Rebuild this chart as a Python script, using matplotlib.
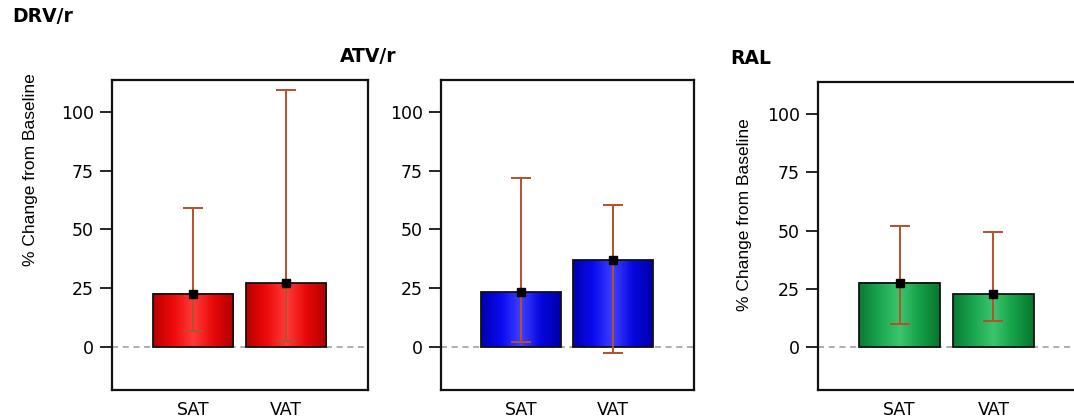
import numpy as np
import matplotlib.pyplot as plt
from matplotlib.colors import LinearSegmentedColormap

# Data: % change from baseline (mean with 95% CI) per regimen
regimens = ["DRV/r", "ATV/r", "RAL"]
depots = ["SAT", "VAT"]
drv_mean = [22.6, 27.2]
drv_low = [6.8, 2.5]
drv_high = [59.1, 109.4]
atv_mean = [23.4, 37.0]
atv_low = [2.1, -2.6]
atv_high = [71.9, 60.4]
ral_mean = [27.7, 22.6]
ral_low = [9.8, 11.1]
ral_high = [51.9, 49.4]
y_ticks = [0, 25, 50, 75, 100]

means = [drv_mean, atv_mean, ral_mean]
lows = [drv_low, atv_low, ral_low]
highs = [drv_high, atv_high, ral_high]

# Horizontal shading for each regimen's bars: dark edges, light centre
shades = [
    ["#b80000", "#ee0a0a", "#ff3a3a", "#e80808", "#b00000"],
    ["#0000b0", "#0a0af0", "#4040ff", "#0606e0", "#0000a8"],
    ["#0a7a34", "#1aa650", "#3cc56c", "#14a048", "#07762f"],
]

W, H = 1074, 419
fig = plt.figure(figsize=(W / 100, H / 100), dpi=100)

def px_axes(left, top, right, bottom):
    return fig.add_axes([left / W, 1 - bottom / H, (right - left) / W, (bottom - top) / H])

boxes = [(112, 80, 368, 390), (441, 80, 694, 390), (818, 82, 1076, 390)]
title_pos = [(12, 17), (340, 57), (730, 58)]
ylabel_pos = [(31, 170), None, (745, 215)]
err_color = "#b5502a"

x = np.arange(1, len(depots) + 1)
for i, (box, name) in enumerate(zip(boxes, regimens)):
    ax = px_axes(*box)
    cmap = LinearSegmentedColormap.from_list(f"shade{i}", shades[i])
    bars = ax.bar(x, means[i], width=0.86, color="none", edgecolor="#111111",
                  linewidth=1.3, zorder=3)
    grad = np.linspace(0, 1, 256)[None, :]
    for b in bars:
        x0, y0 = b.get_x(), b.get_y()
        ax.imshow(grad, cmap=cmap, aspect="auto", zorder=2,
                  extent=(x0, x0 + b.get_width(), y0, y0 + b.get_height()))
    m = np.array(means[i])
    yerr = np.vstack([m - np.array(lows[i]), np.array(highs[i]) - m])
    ax.errorbar(x, m, yerr=yerr, fmt="none", ecolor=err_color, elinewidth=1.4,
                capsize=7.5, capthick=1.4, zorder=4)
    ax.plot(x, m, ls="none", marker="s", ms=6, color="black", zorder=5)
    ax.axhline(0, color="#999999", lw=1.1, ls=(0, (4, 3)), zorder=1)
    ax.set_xlim(0.13, 2.88)
    ax.set_ylim(-18.3, 113.6)
    ax.set_yticks(y_ticks)
    ax.set_yticklabels([str(t) for t in y_ticks], fontsize=12.5)
    ax.set_xticks(x)
    ax.set_xticklabels(depots, fontsize=12.5)
    ax.tick_params(axis="x", length=0, pad=8)
    ax.tick_params(axis="y", length=9, width=1.2, pad=4)
    for s in ax.spines.values():
        s.set_linewidth(1.6)
        s.set_color("#111111")
    if ylabel_pos[i] is not None:
        lx, ly = ylabel_pos[i]
        fig.text(lx / W, 1 - ly / H, "% Change from Baseline", fontsize=12.5,
                 family="Liberation Sans", rotation=90, ha="center", va="center")
    fig.text(title_pos[i][0] / W, 1 - title_pos[i][1] / H, name, fontsize=13.5,
             fontweight="bold", family="DejaVu Sans", va="center", ha="left")

fig.savefig("out.png", dpi=100)
